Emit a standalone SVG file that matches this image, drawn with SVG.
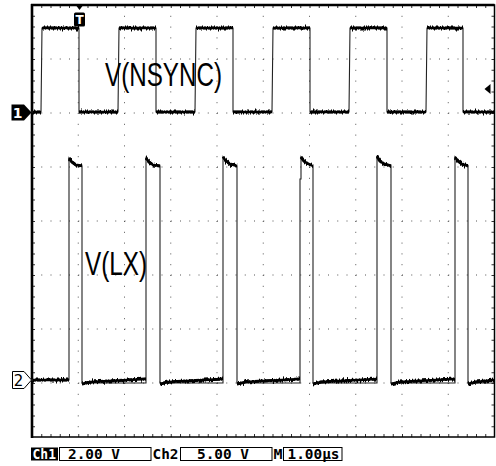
<svg xmlns="http://www.w3.org/2000/svg" width="496" height="466" viewBox="0 0 496 466">
  <style>
    .dotH { stroke:#555; stroke-width:1; stroke-dasharray:1 8.25; fill:none; }
    .dotV { stroke:#555; stroke-width:1; stroke-dasharray:1 9.8; fill:none; }
    .tickH { stroke:#333; stroke-width:3; stroke-dasharray:1 8.25; fill:none; }
    .tickV { stroke:#333; stroke-width:3; stroke-dasharray:1 9.8; fill:none; }
    .edge { stroke:#222; stroke-width:1.1; fill:none; }
    .base { stroke:#000; stroke-width:2.4; fill:none; stroke-linejoin:round; }
    .level { stroke:#000; stroke-width:3; fill:none; stroke-linejoin:round; }
    .big { font-family:"Liberation Sans", Arial, sans-serif; font-size:33px; fill:#000; }
    .stat { font-family:"DejaVu Sans Mono", "Liberation Mono", monospace; font-size:14px; font-weight:bold; fill:#000; }
    .mk { font-family:"DejaVu Sans", sans-serif; font-size:12px; font-weight:bold; }
  </style>
  <defs>
    <filter id="noise" filterUnits="userSpaceOnUse" x="0" y="0" width="496" height="466" color-interpolation-filters="sRGB">
      <feTurbulence type="fractalNoise" baseFrequency="0.9 0.08" numOctaves="2" seed="5" result="t"/>
      <feColorMatrix in="t" type="matrix" values="0 0 0 0 0.5  0 1 0 0 0  0 0 0 0 0  0 0 0 0 1" result="m"/>
      <feDisplacementMap in="SourceGraphic" in2="m" scale="6" xChannelSelector="R" yChannelSelector="G"/>
    </filter>
  </defs>
  <rect width="496" height="466" fill="#fff"/>

  <g id="grid">
    <path class="dotH" d="M32,59H494.5M32,113H494.5M32,167H494.5M32,221H494.5M32,275H494.5M32,329H494.5M32,383H494.5"/>
    <path class="dotV" d="M78.25,5V437M124.5,5V437M170.75,5V437M217,5V437M263.25,5V437M309.5,5V437M355.75,5V437M402,5V437M448.25,5V437"/>
    <path class="tickH" d="M32,6.5H494.5M32,435.5H494.5"/>
    <path class="tickV" d="M33.5,5V437M493,5V437"/>
  </g>

  <g id="frame">
    <rect x="32" y="5" width="462.5" height="432" fill="none" stroke="#000" stroke-width="1.5"/>
    <path d="M32,4V438M31,5H494.5" stroke="#000" stroke-width="2.6" fill="none"/>
  </g>

  <g id="ch1-nsync">
    <path class="edge" d="M31,112H41L42,28H79V112H118L119,28H156V112H195L196,28H233V112H272L273,28H310V112H349L350,28H387V112H426L427,28H463V112H494"/>
    <path class="base" d="M33,112H41M42,28H79M79,112H118M119,28H156M156,112H195M196,28H233M233,112H272M273,28H310M310,112H349M350,28H387M387,112H426M427,28H463M463,112H494"/>
    <path class="level" filter="url(#noise)" d="M33,112H41M42,28H79M79,112H118M119,28H156M156,112H195M196,28H233M233,112H272M273,28H310M310,112H349M350,28H387M387,112H426M427,28H463M463,112H494"/>
  </g>

  <g id="ch2-lx">
    <path class="edge" d="M31,380H69V158L72,162L76,165L82,166V383H146V158L149,162L153,165L160,166V383H223V157L226,161L230,164L237,166V383H300V179H301V157L304,161L308,164L313,166V383H377V157L380,161L384,164L391,166V383H455V157L458,161L462,164L468,166V383H494"/>
    <path class="base" d="M33,380H69M69,158L72,162L76,165L82,166M82,384L90,382L146,379M146,158L149,162L153,165L160,166M160,384L168,382L223,379M223,157L226,161L230,164L237,166M237,384L245,382L300,379M301,157L304,161L308,164L313,166M313,384L321,382L377,379M377,157L380,161L384,164L391,166M391,384L399,382L455,379M455,157L458,161L462,164L468,166M468,384L476,382L494,380"/>
    <path class="level" filter="url(#noise)" d="M33,380H69M69,158L72,162L76,165L82,166M82,384L90,382L146,379M146,158L149,162L153,165L160,166M160,384L168,382L223,379M223,157L226,161L230,164L237,166M237,384L245,382L300,379M301,157L304,161L308,164L313,166M313,384L321,382L377,379M377,157L380,161L384,164L391,166M391,384L399,382L455,379M455,157L458,161L462,164L468,166M468,384L476,382L494,380"/>
  </g>

  <g id="labels">
    <text class="big" x="105" y="86" textLength="117" lengthAdjust="spacingAndGlyphs">V(NSYNC)</text>
    <text class="big" x="85" y="275" textLength="62" lengthAdjust="spacingAndGlyphs">V(LX)</text>
  </g>

  <g id="markers">
    <g id="trigger-pos">
      <polygon points="75,4 84,4 79.5,10" fill="#000"/>
      <rect x="74" y="12.5" width="11" height="14" rx="1.5" fill="#000"/>
      <text class="mk" x="79.5" y="24" text-anchor="middle" fill="#fff">T</text>
    </g>
    <g id="ch1-marker">
      <polygon points="11.5,104.5 24,104.5 31.5,112.5 24,120.5 11.5,120.5" fill="#000"/>
      <text class="mk" x="17.5" y="117.5" text-anchor="middle" fill="#fff" style="font-size:14px">1</text>
    </g>
    <g id="ch2-marker">
      <polygon points="12.5,371.5 24,371.5 31.5,380 24,388.5 12.5,388.5" fill="#fff" stroke="#000" stroke-width="1"/>
      <text x="18.5" y="386" text-anchor="middle" fill="#000" style="font-family:'DejaVu Sans',sans-serif;font-size:15px">2</text>
    </g>
    <g id="trigger-level">
      <polygon points="484.5,89 490.5,84 490.5,94" fill="#000"/>
    </g>
  </g>

  <g id="status">
    <rect x="31" y="447.5" width="27" height="13" fill="#000"/>
    <text class="stat" x="32.5" y="459" textLength="23.5" lengthAdjust="spacingAndGlyphs" style="fill:#fff">Ch1</text>
    <rect x="59.5" y="447.5" width="91.5" height="13" fill="none" stroke="#000" stroke-width="1"/>
    <text class="stat" x="68" y="459" textLength="52" lengthAdjust="spacingAndGlyphs">2.00 V</text>
    <text class="stat" x="152.5" y="459" textLength="26" lengthAdjust="spacingAndGlyphs">Ch2</text>
    <rect x="180.5" y="447.5" width="91.5" height="13" fill="none" stroke="#000" stroke-width="1"/>
    <text class="stat" x="197" y="459" textLength="52" lengthAdjust="spacingAndGlyphs">5.00 V</text>
    <text class="stat" x="273.5" y="459" textLength="9" lengthAdjust="spacingAndGlyphs">M</text>
    <rect x="283.5" y="447.5" width="58.5" height="13" fill="none" stroke="#000" stroke-width="1"/>
    <text class="stat" x="287.5" y="459" textLength="52" lengthAdjust="spacingAndGlyphs">1.00µs</text>
  </g>
</svg>
